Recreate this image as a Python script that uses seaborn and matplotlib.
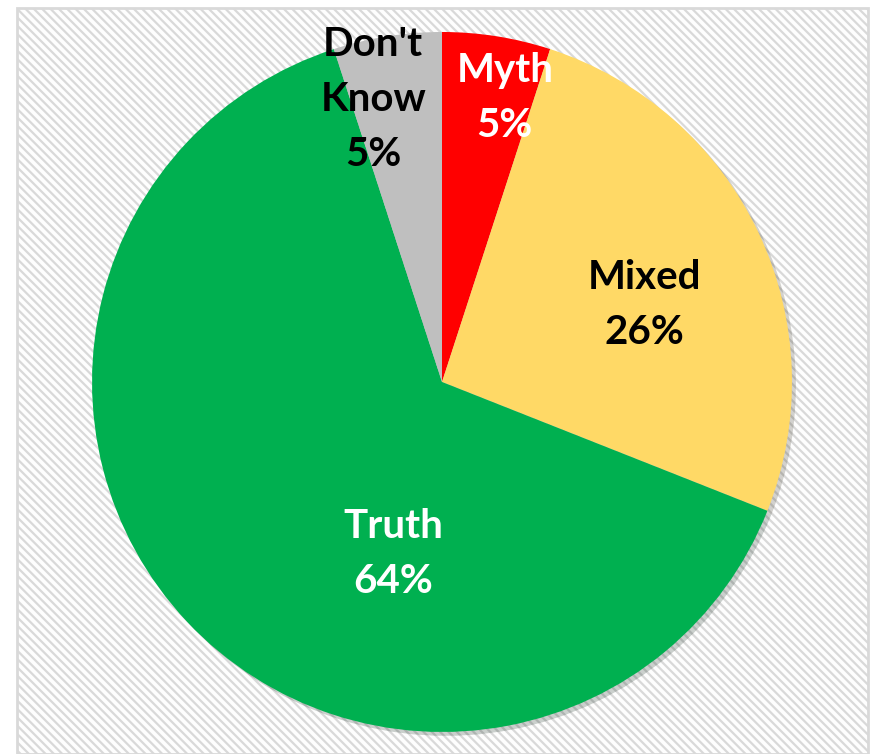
import matplotlib
matplotlib.use("Agg")
import matplotlib.pyplot as plt
import seaborn as sns
import numpy as np
from matplotlib.patches import Rectangle

categories = ["Myth", "Mixed", "Truth", "Don't\nKnow"]
values = [5, 26, 64, 5]
colors = ["#FF0000", "#FFD966", "#00B050", "#BFBFBF"]
text_colors = ["white", "black", "white", "black"]

sns.set_theme(style="white")
plt.rcParams['font.family'] = ['Lato', 'DejaVu Sans']
plt.rcParams['hatch.color'] = "#f5f5f5"
plt.rcParams['hatch.linewidth'] = 1.6

fig = plt.figure(figsize=(8.73, 7.54), dpi=100)
fig.patch.set_facecolor("white")

# background: faint diagonal texture and border
bg = Rectangle((17/873, 0), (868-17)/873, 1-8/754, transform=fig.transFigure,
               facecolor="#fefefe", edgecolor="#d9d9d9", linewidth=2,
               hatch="\\\\\\\\", zorder=-5)
fig.patches.append(bg)

ax = fig.add_axes([0.1054, 0.0292, 0.8018, 0.9284])
ax.set_zorder(1)
ax.set_facecolor("none")
wedges, _ = ax.pie(values, colors=colors, startangle=90, counterclock=False,
                   radius=1, wedgeprops=dict(linewidth=0),
                   shadow=dict(ox=0.008, oy=-0.008, shade=0.85, alpha=0.2))
ax.set_xlim(-1, 1)
ax.set_ylim(-1, 1)
ax.set_aspect("equal")
ax.axis("off")

# label positions (fraction of radius, angle in degrees)
label_pos = [(0.83, 77.5), (0.62, 20.8), (0.51, -105.8), (0.83, 103.7)]
for cat, v, tc, (r, a) in zip(categories, values, text_colors, label_pos):
    x = r*np.cos(np.radians(a)); y = r*np.sin(np.radians(a))
    ax.text(x, y, f"{cat}\n{v}%", ha="center", va="center", color=tc,
            fontsize=29, fontweight="bold", linespacing=1.6)

fig.savefig("out.png", dpi=100)
